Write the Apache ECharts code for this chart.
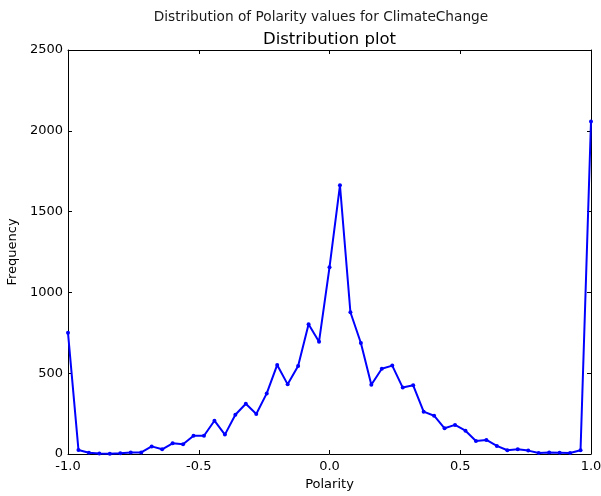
<!DOCTYPE html>
<html>
<head>
<meta charset="utf-8">
<script src="https://cdn.jsdelivr.net/npm/echarts@6/dist/echarts.min.js"></script>
<style>
  html, body { margin: 0; padding: 0; background: #fff; }
  #chart { width: 601px; height: 496px; }
</style>
</head>
<body>
<div id="chart"></div>
<script>
// Polarity bin positions (step 0.04 from -1 to 1)
const polarity = [
  -1.00, -0.96, -0.92, -0.88, -0.84, -0.80, -0.76, -0.72, -0.68, -0.64,
  -0.60, -0.56, -0.52, -0.48, -0.44, -0.40, -0.36, -0.32, -0.28, -0.24,
  -0.20, -0.16, -0.12, -0.08, -0.04, 0.00, 0.04, 0.08, 0.12, 0.16,
  0.20, 0.24, 0.28, 0.32, 0.36, 0.40, 0.44, 0.48, 0.52, 0.56,
  0.60, 0.64, 0.68, 0.72, 0.76, 0.80, 0.84, 0.88, 0.92, 0.96, 1.00
];

// Frequency per polarity bin
const frequency = [
  750, 25, 8, 3, 2, 4, 10, 10, 47, 29,
  66, 60, 113, 113, 206, 120, 243, 311, 248, 375,
  551, 431, 545, 803, 695, 1155, 1663, 877, 687, 429,
  528, 547, 411, 425, 262, 237, 159, 180, 144, 80,
  87, 50, 23, 29, 21, 6, 10, 8, 6, 23, 2057
];

const xTicks = [-1.0, -0.5, 0.0, 0.5, 1.0];
const yTicks = [0, 500, 1000, 1500, 2000, 2500];

const figTitle = 'Distribution of Polarity values for ClimateChange';
const plotTitle = 'Distribution plot';
const xLabel = 'Polarity';
const yLabel = 'Frequency';

const FONT = '"DejaVu Sans", sans-serif';
const frame = { show: true, onZero: false, lineStyle: { color: '#000', width: 1 } };
const inTicks = { show: true, inside: true, length: 4, lineStyle: { color: '#000', width: 1 } };

const chart = echarts.init(document.getElementById('chart'), null, { renderer: 'canvas' });
chart.setOption({
  animation: false,
  backgroundColor: '#fff',
  title: [
    { text: figTitle, left: 321, top: 9, textAlign: 'center', padding: 0,
      textStyle: { fontFamily: FONT, fontSize: 13.7, fontWeight: 'normal', color: '#1a1a1a', lineHeight: 16 } },
    { text: plotTitle, left: 329.5, top: 31, textAlign: 'center', padding: 0,
      textStyle: { fontFamily: FONT, fontSize: 16.5, fontWeight: 'normal', color: '#000', lineHeight: 18 } }
  ],
  grid: { left: 68, right: 10, top: 50, bottom: 42, containLabel: false, outerBoundsMode: 'none' },
  xAxis: [
    {
      type: 'value', position: 'bottom',
      min: xTicks[0], max: xTicks[xTicks.length - 1], interval: 0.5,
      name: xLabel, nameLocation: 'middle', nameGap: 21,
      nameTextStyle: { fontFamily: FONT, fontSize: 13, color: '#000' },
      axisLine: frame, axisTick: inTicks,
      axisLabel: { fontFamily: FONT, fontSize: 13, color: '#000', margin: 6,
        formatter: v => v.toFixed(1) },
      splitLine: { show: false }
    },
    {
      type: 'value', position: 'top',
      min: xTicks[0], max: xTicks[xTicks.length - 1], interval: 0.5,
      axisLine: frame, axisTick: inTicks,
      axisLabel: { show: false }, splitLine: { show: false }
    }
  ],
  yAxis: [
    {
      type: 'value', position: 'left',
      min: yTicks[0], max: yTicks[yTicks.length - 1], interval: 500,
      name: yLabel, nameLocation: 'middle', nameGap: 44,
      nameTextStyle: { fontFamily: FONT, fontSize: 13, color: '#000' },
      axisLine: frame, axisTick: inTicks,
      axisLabel: { fontFamily: FONT, fontSize: 13, color: '#000', margin: 5,
        formatter: v => String(v) },
      splitLine: { show: false }
    },
    {
      type: 'value', position: 'right',
      min: yTicks[0], max: yTicks[yTicks.length - 1], interval: 500,
      axisLine: frame, axisTick: inTicks,
      axisLabel: { show: false }, splitLine: { show: false }
    }
  ],
  series: [
    {
      type: 'line',
      xAxisIndex: 0, yAxisIndex: 0,
      data: polarity.map((p, i) => [p, frequency[i]]),
      symbol: 'circle', symbolSize: 4, showAllSymbol: true,
      lineStyle: { color: '#0000ff', width: 2 },
      itemStyle: { color: '#0000ff' },
      emphasis: { disabled: true }
    }
  ]
});
</script>
</body>
</html>
